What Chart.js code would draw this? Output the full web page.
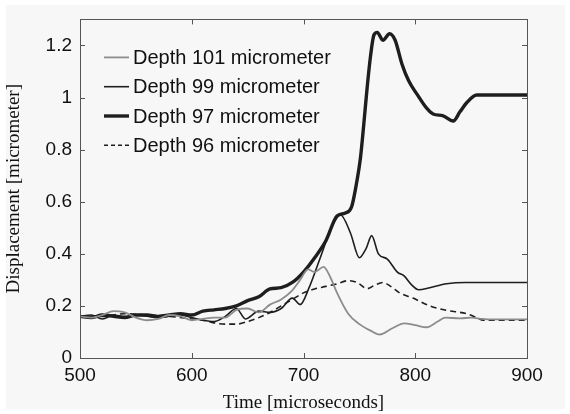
<!DOCTYPE html>
<html>
<head>
<meta charset="utf-8">
<script src="https://cdn.jsdelivr.net/npm/chart.js@4/dist/chart.umd.min.js"></script>
<style>
  html, body { margin: 0; padding: 0; background: #ffffff; }
  #wrap { width: 570px; height: 414px; }
</style>
</head>
<body>
<div id="wrap"><canvas id="c" width="570" height="414"></canvas></div>
<script>
// ---- Data ----
const seriesLabels = ['Depth 101 micrometer', 'Depth 99 micrometer', 'Depth 97 micrometer', 'Depth 96 micrometer'];

const t101 = [500,510,520,530,540,550,560,570,580,590,600,610,620,630,640,650,660,670,680,690,697,704,710,718,724,730,740,750,760,768,780,790,800,810,820,827,840,850,860,870,900];
const v101 = [0.16,0.155,0.165,0.18,0.175,0.155,0.145,0.15,0.165,0.16,0.145,0.15,0.155,0.155,0.185,0.19,0.175,0.205,0.225,0.26,0.3,0.34,0.33,0.35,0.31,0.25,0.17,0.13,0.105,0.09,0.115,0.133,0.126,0.118,0.14,0.155,0.152,0.155,0.15,0.148,0.148];

const t99 = [500,510,520,530,540,550,560,570,580,590,600,610,620,630,640,648,660,670,680,690,697,705,715,725,733,742,750,756,761,767,775,784,790,797,803,813,828,845,900];
const v99 = [0.16,0.165,0.15,0.165,0.16,0.165,0.16,0.155,0.16,0.165,0.155,0.145,0.14,0.16,0.19,0.15,0.18,0.175,0.19,0.23,0.205,0.27,0.385,0.5,0.55,0.48,0.385,0.42,0.47,0.4,0.38,0.33,0.315,0.28,0.262,0.27,0.285,0.29,0.29];

const t97 = [500,510,520,530,540,550,560,570,580,590,600,610,620,630,640,650,660,670,680,690,700,710,720,730,737,743,747,751,754,757,760,763,766,771,777,782,788,794,802,810,816,825,834,840,846,855,900];
const v97 = [0.16,0.155,0.165,0.16,0.155,0.165,0.165,0.16,0.165,0.17,0.165,0.18,0.185,0.19,0.2,0.22,0.235,0.265,0.27,0.29,0.33,0.385,0.45,0.545,0.556,0.58,0.66,0.77,0.9,1.04,1.16,1.24,1.25,1.22,1.245,1.22,1.13,1.065,1.01,0.96,0.937,0.93,0.91,0.945,0.98,1.01,1.01];

const t96 = [500,520,540,560,580,600,610,620,630,640,650,660,670,680,690,700,710,720,730,740,748,757,764,771,778,786,798,813,828,846,855,861,900];
const v96 = [0.16,0.16,0.17,0.165,0.16,0.15,0.145,0.135,0.13,0.13,0.14,0.155,0.175,0.2,0.225,0.25,0.265,0.275,0.285,0.297,0.29,0.266,0.28,0.29,0.275,0.25,0.23,0.2,0.183,0.17,0.155,0.145,0.145];

const xTicks = [500, 600, 700, 800, 900];
const yTicks = [0, 0.2, 0.4, 0.6, 0.8, 1, 1.2];
const yTickLabels = ['0', '0.2', '0.4', '0.6', '0.8', '1', '1.2'];
const xTitle = 'Time [microseconds]';
const yTitle = 'Displacement [micrometer]';

function pts(ts, vs) { return ts.map((t, i) => ({ x: t, y: vs[i] })); }

const styles = [
  { color: '#8c8c8c', width: 1.8, dash: [] },
  { color: '#1e1e1e', width: 1.6, dash: [] },
  { color: '#1e1e1e', width: 3.4, dash: [] },
  { color: '#1e1e1e', width: 1.6, dash: [6, 4] }
];
const seriesData = [pts(t101, v101), pts(t99, v99), pts(t97, v97), pts(t96, v96)];

const datasets = seriesData.map((d, i) => ({
  label: seriesLabels[i],
  data: d,
  borderColor: styles[i].color,
  borderWidth: styles[i].width,
  borderDash: styles[i].dash,
  pointRadius: 0,
  fill: false,
  cubicInterpolationMode: 'monotone'
}));

const bgPlugin = {
  id: 'bg',
  beforeDraw(chart) {
    const ctx = chart.ctx;
    ctx.save();
    ctx.fillStyle = '#ffffff';
    ctx.fillRect(0, 0, chart.width, chart.height);
    ctx.fillStyle = '#f7f7f7';
    ctx.fillRect(6, 5, chart.width - 11, chart.height - 10);
    ctx.restore();
  }
};

const framePlugin = {
  id: 'frame',
  afterDatasetsDraw(chart) {
    const ctx = chart.ctx;
    const a = chart.chartArea;
    const xs = chart.scales.x, ys = chart.scales.y;
    ctx.save();
    ctx.strokeStyle = '#555555';
    ctx.lineWidth = 1;
    ctx.setLineDash([]);
    ctx.strokeRect(Math.round(a.left) + 0.5, Math.round(a.top) + 0.5, Math.round(a.right - a.left), Math.round(a.bottom - a.top));
    const L = 5;
    ctx.beginPath();
    xTicks.forEach(v => {
      const px = Math.round(xs.getPixelForValue(v)) + 0.5;
      ctx.moveTo(px, a.bottom); ctx.lineTo(px, a.bottom - L);
      ctx.moveTo(px, a.top); ctx.lineTo(px, a.top + L);
    });
    yTicks.forEach(v => {
      const py = Math.round(ys.getPixelForValue(v)) + 0.5;
      ctx.moveTo(a.left, py); ctx.lineTo(a.left + L, py);
      ctx.moveTo(a.right, py); ctx.lineTo(a.right - L, py);
    });
    ctx.stroke();
    ctx.restore();
  }
};

const legendPlugin = {
  id: 'innerLegend',
  afterDraw(chart) {
    const ctx = chart.ctx;
    const a = chart.chartArea;
    ctx.save();
    ctx.font = '20px "Liberation Sans", Arial, sans-serif';
    ctx.textBaseline = 'middle';
    ctx.textAlign = 'left';
    chart.data.datasets.forEach((ds, i) => {
      const y = a.top + 38 + i * 29.3;
      ctx.strokeStyle = ds.borderColor;
      ctx.lineWidth = ds.borderWidth;
      ctx.setLineDash(ds.borderDash && ds.borderDash.length ? [4, 3] : []);
      ctx.beginPath();
      ctx.moveTo(a.left + 24, y);
      ctx.lineTo(a.left + 49, y);
      ctx.stroke();
      ctx.fillStyle = '#111111';
      ctx.fillText(ds.label, a.left + 53, y + 1);
    });
    ctx.restore();
  }
};

new Chart(document.getElementById('c'), {
  type: 'line',
  data: { datasets },
  options: {
    responsive: false,
    devicePixelRatio: 1,
    animation: false,
    layout: { padding: { left: 0, right: 43, top: 17, bottom: 0 } },
    plugins: { legend: { display: false }, tooltip: { enabled: false } },
    scales: {
      x: {
        type: 'linear',
        min: 500, max: 900,
        afterBuildTicks(s) { s.ticks = xTicks.map(v => ({ value: v })); },
        afterFit(s) { s.height = 56; },
        grid: { display: false, drawTicks: false },
        border: { display: false },
        ticks: {
          color: '#111111',
          font: { family: '"Liberation Sans", Arial, sans-serif', size: 19 },
          padding: 6,
          maxRotation: 0,
          callback: (v) => String(v)
        },
        title: {
          display: true, text: xTitle, color: '#111111',
          font: { family: '"Liberation Serif", "Times New Roman", serif', size: 19 },
          padding: { top: 0, bottom: 0 }
        }
      },
      y: {
        type: 'linear',
        min: 0, max: 1.3,
        afterBuildTicks(s) { s.ticks = yTicks.map(v => ({ value: v })); },
        afterFit(s) { s.width = 80; },
        grid: { display: false, drawTicks: false },
        border: { display: false },
        ticks: {
          color: '#111111',
          font: { family: '"Liberation Sans", Arial, sans-serif', size: 19 },
          padding: 8,
          callback: (v) => { const i = yTicks.indexOf(v); return i >= 0 ? yTickLabels[i] : ''; }
        },
        title: {
          display: true, text: yTitle, color: '#111111',
          font: { family: '"Liberation Serif", "Times New Roman", serif', size: 19 },
          padding: { top: 3, bottom: 0 }
        }
      }
    }
  },
  plugins: [bgPlugin, framePlugin, legendPlugin]
});
</script>
</body>
</html>
